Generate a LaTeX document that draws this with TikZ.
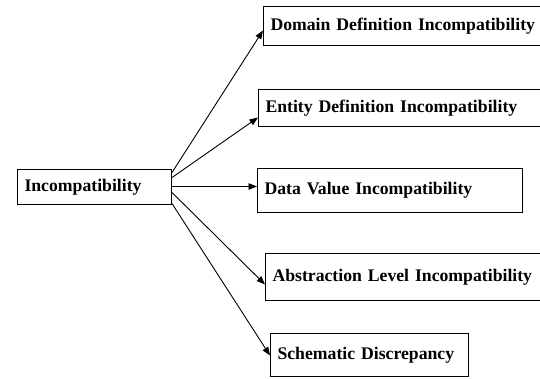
\documentclass[tikz,border=0pt]{standalone}
\usepackage{fontspec}
\setmainfont{Liberation Serif}
\usetikzlibrary{arrows.meta,calc}
\begin{document}
\begin{tikzpicture}[x=1bp,y=-1bp,
  box/.style={draw, line width=1bp, anchor=north west, inner xsep=7bp, inner ysep=0pt,
    align=left, font=\fontsize{17.7bp}{21bp}\selectfont\bfseries},
  link/.style={line width=0.9bp, -{Triangle[length=8.5bp,width=6.5bp]}}]
  \useasboundingbox (0,0) rectangle (540,378);
  \clip (0,0) rectangle (540,378);

  % root category and its five kinds
  \node[box, text width=140bp, minimum height=35bp] (inc) at (17,169) {Incompatibility};
  \node[box, text width=268bp, minimum height=39bp] (dom) at (263,6) {Domain Definition Incompatibility};
  \node[box, text width=273bp, minimum height=37bp] (ent) at (258,89) {Entity Definition Incompatibility};
  \node[box, text width=251bp, minimum height=44bp] (dat) at (257,168) {Data Value Incompatibility};
  \node[box, text width=266bp, minimum height=47bp] (abs) at (265,253) {Abstraction Level Incompatibility};
  \node[box, text width=184bp, minimum height=43bp] (sch) at (270,333) {Schematic Discrepancy};

  % start points along the right side of the root box
  \coordinate (o1) at ($(inc.east)+(0,-14.5)$);
  \coordinate (o2) at ($(inc.east)+(0,-9.5)$);
  \coordinate (o3) at ($(inc.east)+(0,-0.5)$);
  \coordinate (o4) at ($(inc.east)+(0,5.5)$);
  \coordinate (o5) at ($(inc.east)+(0,16.5)$);

  \draw[link] (o1) -- ($(dom.west)+(0,4.5)$);
  \draw[link] (o2) -- ($(ent.west)+(0,9.5)$);
  \draw[link] (o3) -- (o3 -| dat.west);
  \draw[link] (o4) -- ($(abs.west)+(0,7.5)$);
  \draw[link] (o5) -- ($(sch.west)+(0,0.5)$);
\end{tikzpicture}
\end{document}
